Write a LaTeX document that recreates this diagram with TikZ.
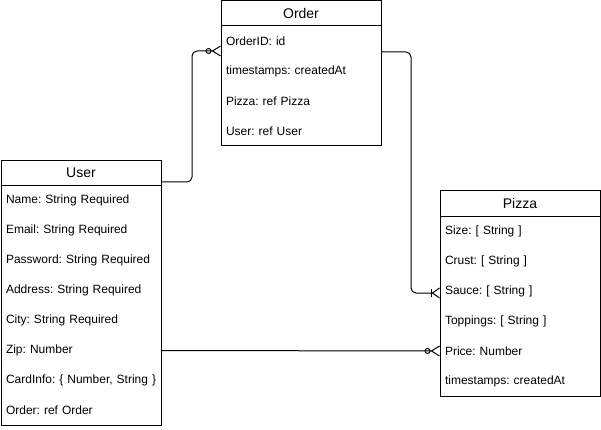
\documentclass[tikz,border=0pt]{standalone}
\usepackage{fontspec}
\setmainfont{Liberation Sans}
\usetikzlibrary{positioning,arrows.meta}

\begin{document}
\begin{tikzpicture}
% Style
[
    x=1pt, y=-1pt, line width=1pt, node distance=0pt,
    every node/.style={outer sep=0pt},
    title/.style={
        draw, shape=rectangle, minimum width=160pt, minimum height=25pt, inner sep=0pt,
        font=\fontsize{14}{16}\selectfont
    },
    field/.style={
        shape=rectangle, minimum height=30pt, text width=150pt, inner xsep=5pt, inner ysep=0pt,
        align=left, font=\fontsize{12}{14}\selectfont\frenchspacing
    },
    link/.style={rounded corners=5pt},
    zeromany/.style={-{Circle[open, length=6pt] Straight Barb[reversed, length=8pt, width=10pt]}},
    onemany/.style={-{Bar[width=8pt] Straight Barb[reversed, length=7pt, width=10pt]}}
]
\useasboundingbox (0,0) rectangle (601,430);

%=================================== Tables ===================================
{
    \node[title] (order) at (301,13.5) {Order};
    \foreach \f [count=\i, evaluate={\d=int((\i-1)*30)}] in
        {OrderID: id, timestamps: createdAt, Pizza: ref Pizza, User: ref User} {
        \node[field, below=\d pt of order] (order-\i) {\mbox{\f}};
    }
    \draw (order.north west) rectangle (order-4.south east);

    \node[title] (user) at (81,173) {User};
    \foreach \f [count=\i, evaluate={\d=int((\i-1)*30)}] in
        {Name: String Required, Email: String Required, Password: String Required,
         Address: String Required, City: String Required, Zip: Number,
         {CardInfo: \{ Number, String \}}, Order: ref Order} {
        \node[field, below=\d pt of user] (user-\i) {\mbox{\f}};
    }
    \draw (user.north west) rectangle (user-8.south east);

    \node[title] (pizza) at (520,203.5) {Pizza};
    \foreach \f [count=\i, evaluate={\d=int((\i-1)*30)}] in
        {Size: [ String ], Crust: [ String ], Sauce: [ String ], Toppings: [ String ],
         Price: Number, timestamps: createdAt} {
        \node[field, below=\d pt of pizza] (pizza-\i) {\mbox{\f}};
    }
    \draw (pizza.north west) rectangle (pizza-6.south east);
}
%================================== Links ===================================
{
    \draw[link, zeromany] ([yshift=-9pt]user.east) -- ++(31,0) |- ([yshift=-10pt]order-1.west);
    \draw[link, onemany] ([yshift=-11pt]order-1.east) -- ++(30,0) |- ([yshift=-2pt]pizza-3.west);
    \draw[zeromany] (user-6.east) -- (pizza-5.west);
}
%=================================== END ====================================

\end{tikzpicture}
\end{document}
